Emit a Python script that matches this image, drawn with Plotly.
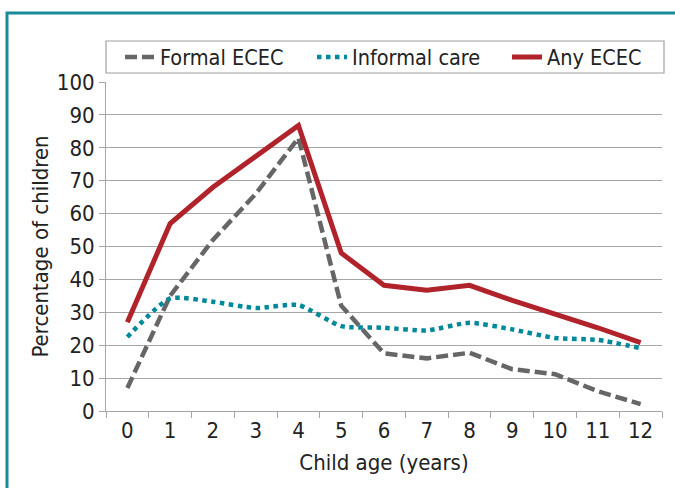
import plotly.graph_objects as go

ages = [str(a) for a in range(13)]
formal_ecec = [7, 35, 52, 66, 83, 32, 17.5, 16, 17.7, 12.7, 11.2, 6, 2.1]
informal_care = [22.5, 34.2, 33.2, 31.3, 32.2, 25.8, 25.3, 24.5, 26.8, 24.8, 22.2, 21.6, 19.1]
any_ecec = [27, 57, 68, 77.5, 86.8, 48, 38.2, 36.7, 38.2, 33.6, 29.5, 25.3, 20.8]

y_ticks = list(range(0, 101, 10))

FONT = "DejaVu Sans Condensed, Liberation Sans, sans-serif"
GRID = "#a6a6a6"

fig = go.Figure()
fig.add_trace(go.Scatter(x=ages, y=formal_ecec, name="Formal ECEC", mode="lines", legend="legend",
                         line=dict(color="#666666", width=4.5, dash="12px,5px")))
fig.add_trace(go.Scatter(x=ages, y=informal_care, name="Informal care", mode="lines", legend="legend2",
                         line=dict(color="#00899a", width=4.5, dash="dot", shape="spline", smoothing=0.6)))
fig.add_trace(go.Scatter(x=ages, y=any_ecec, name="Any ECEC", mode="lines", legend="legend3",
                         line=dict(color="#b0232b", width=5)))

W, H = 675, 488
L, R, T, B = 106, 13, 82, 77
pw = W - L - R
ph = H - T - B

def px_x(p):
    return (p - L) / pw

def px_y(p):
    return (H - B - p) / ph

def leg(xpix):
    return dict(orientation="h", x=px_x(xpix), y=px_y(57), xanchor="left", yanchor="middle",
                font=dict(size=21.5, color="#222222"), bgcolor="rgba(0,0,0,0)", borderwidth=0,
                itemwidth=30)

fig.update_layout(
    width=W, height=H,
    margin=dict(l=L, r=R, t=T, b=B, autoexpand=False),
    paper_bgcolor="white", plot_bgcolor="white",
    font=dict(family=FONT, color="#222222", size=22),
    showlegend=True,
    legend=leg(120), legend2=leg(312), legend3=leg(507),
    xaxis=dict(type="category", range=[-0.5, 12.5], tickson="boundaries",
               ticks="outside", ticklen=6, tickcolor=GRID, tickwidth=1,
               showline=True, linecolor=GRID, linewidth=1, showgrid=False,
               tickfont=dict(size=22), title=dict(text="Child age (years)", font=dict(size=22), standoff=12)),
    yaxis=dict(range=[0, 100], tickvals=y_ticks, ticks="outside", ticklen=6, tickcolor=GRID,
               showline=True, linecolor=GRID, linewidth=1, showgrid=True, gridcolor=GRID, gridwidth=1,
               tickfont=dict(size=22), zeroline=False,
               title=dict(text="Percentage of children", font=dict(size=22), standoff=2)),
    shapes=[
        dict(type="rect", xref="paper", yref="paper", x0=px_x(106), x1=px_x(664), y0=px_y(73), y1=px_y(41),
             line=dict(color="#a0a0a0", width=1.2)),
        dict(type="path", xref="paper", yref="paper",
             path=f"M {px_x(7)} {px_y(500)} L {px_x(7)} {px_y(13)} L {px_x(690)} {px_y(13)}",
             line=dict(color="#1a8a9a", width=3)),
    ],
)

fig.write_html("out.html", config={"displayModeBar": False},
               post_script="document.body.style.margin='0';")
